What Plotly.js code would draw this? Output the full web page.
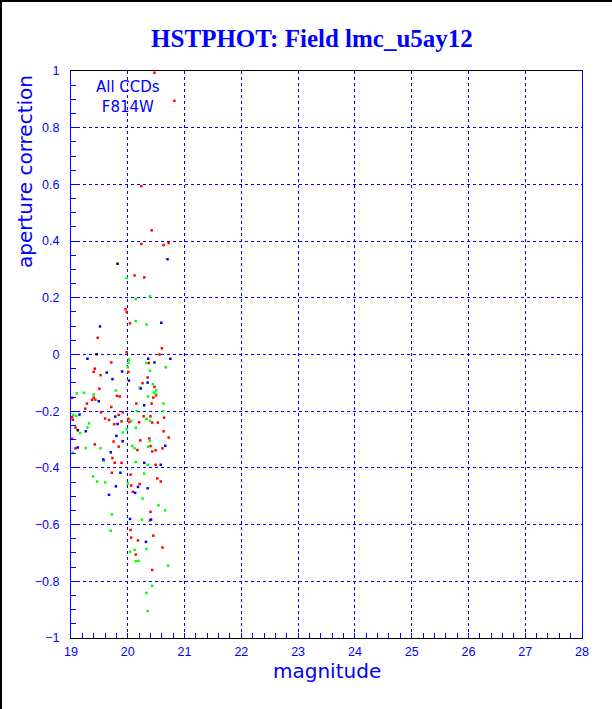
<!DOCTYPE html>
<html>
<head>
<meta charset="utf-8">
<script src="https://cdn.plot.ly/plotly-3.0.1.min.js"></script>
<style>
  html, body { margin: 0; padding: 0; background: #fff; }
  #chart { width: 612px; height: 709px; }
  #frame { position: absolute; left: 0; top: 0; width: 612px; height: 709px; box-sizing: border-box;
           border-top: 2px solid #000; border-left: 2px solid #000; pointer-events: none; }
</style>
</head>
<body>
<div id="chart"></div>
<div id="frame"></div>
<script>
// ---- data (magnitude, aperture correction) ----
const redMag = [20.47,20.82,20.24,20.42,20.24,20.63,20.72,20.12,20.29,19.96,19.98,20.04,19.47,20.60,
  19.98,20.56,19.71,20.37,19.42,19.40,20.01,19.52,20.35,19.50,20.26,20.47,19.81,19.86,19.40,20.50,20.45,
  19.37,19.43,19.02,19.28,20.15,20.42,19.71,19.25,19.53,19.91,19.84,20.28,20.40,20.64,19.02,19.60,19.67,
  20.01,19.03,20.03,20.20,19.89,20.43,20.53,19.76,19.08,20.63,20.72,20.38,20.22,19.75,19.02,19.84,19.42,
  20.40,19.08,20.61,20.17,20.49,20.43,19.73,19.77,19.89,20.49,19.72,20.05,20.52,20.58,20.21,20.06,
  20.09,20.40,20.39,20.05,20.45,20.06,20.18,20.61,20.14,20.43];
const redCorr = [0.994,0.895,0.594,0.438,0.39,0.386,0.393,0.279,0.272,0.16,0.15,0.11,0.059,0.022,
  0.008,0.0,-0.028,-0.03,-0.05,-0.061,-0.061,-0.073,-0.081,-0.121,-0.101,-0.114,-0.146,-0.148,-0.152,-0.144,-0.152,
  -0.16,-0.159,-0.153,-0.173,-0.173,-0.173,-0.185,-0.191,-0.204,-0.204,-0.213,-0.218,-0.218,-0.223,-0.221,-0.226,-0.231,
  -0.227,-0.23,-0.238,-0.239,-0.236,-0.24,-0.24,-0.246,-0.258,-0.271,-0.293,-0.296,-0.303,-0.307,-0.297,-0.325,-0.317,
  -0.323,-0.331,-0.331,-0.337,-0.338,-0.342,-0.365,-0.382,-0.382,-0.389,-0.417,-0.424,-0.437,-0.448,-0.457,-0.462,
  -0.484,-0.555,-0.585,-0.619,-0.639,-0.646,-0.656,-0.681,-0.706,-0.76];

const greenMag = [19.98,20.14,20.39,20.14,20.33,
  20.02,20.01,20.33,20.67,20.00,20.39,20.44,20.21,19.79,20.50,20.46,20.49,19.10,19.23,19.40,20.36,20.63,
  20.16,20.62,19.04,19.09,20.33,20.06,20.39,19.32,19.29,20.14,19.16,19.91,19.98,20.39,20.08,20.36,19.26,
  19.52,20.12,19.03,19.58,20.14,20.35,20.29,19.39,19.46,19.60,20.00,
  20.26,20.54,20.66,19.72,20.25,19.70,20.12,20.33,20.04,20.14,20.19,20.71,20.43,20.33,20.35];
const greenCorr = [0.27,0.195,0.205,0.118,0.106,
  -0.018,-0.029,-0.03,-0.045,-0.045,-0.057,-0.105,-0.117,-0.127,-0.127,-0.134,-0.139,-0.137,-0.135,-0.141,-0.148,-0.173,
  -0.2,-0.2,-0.213,-0.217,-0.227,-0.234,-0.234,-0.243,-0.257,-0.258,-0.277,-0.275,-0.264,-0.305,-0.322,-0.325,-0.33,
  -0.331,-0.331,-0.346,-0.375,-0.379,-0.389,-0.42,-0.43,-0.448,-0.451,-0.455,
  -0.508,-0.532,-0.55,-0.564,-0.582,-0.622,-0.689,-0.686,-0.696,-0.729,-0.728,-0.745,-0.816,-0.841,-0.905];

const blueMag = [20.70,20.59,19.51,
  19.29,20.36,20.75,20.47,19.63,19.90,19.73,20.02,20.35,20.23,19.49,20.29,19.15,19.78,19.82,19.26,19.80,
  19.91,20.66,19.12,19.70,19.57,20.29,20.58,19.87,19.79,20.18,20.35,
  20.13,19.67,20.04,20.41,20.32];
const blueCorr = [0.336,0.112,0.099,
  -0.015,-0.015,-0.015,-0.028,-0.064,-0.06,-0.087,-0.092,-0.099,-0.12,-0.165,-0.179,-0.212,-0.219,-0.245,-0.271,-0.287,
  -0.306,-0.322,-0.328,-0.345,-0.37,-0.382,-0.389,-0.417,-0.465,-0.467,-0.472,
  -0.488,-0.495,-0.58,-0.582,-0.661];

const blackMag = [19.82,19.45,19.12];
const blackCorr = [0.32,0.001,-0.267];

const titleText = 'HSTPHOT: Field lmc_u5ay12';
const xTitle = 'magnitude';
const yTitle = 'aperture correction';
const noteText = 'All CCDs<br>F814W';

// ---- chart ----
const BLUE = '#0000ff';
function series(x, y, color) {
  return { type: 'scatter', mode: 'markers', x: x, y: y,
           marker: { symbol: 'square', size: 2.5, color: color, line: { width: 0 } },
           hoverinfo: 'skip', showlegend: false };
}
const traces = [
  series(redMag, redCorr, '#ff0000'),
  series(greenMag, greenCorr, '#00ff00'),
  series(blueMag, blueCorr, BLUE),
  series(blackMag, blackCorr, '#000000')
];

const W = 612, H = 709, L = 71, R = 30, T = 71, B = 71;
const pw = W - L - R, ph = H - T - B;
const tickFont = { family: 'Liberation Sans, Arial, sans-serif', size: 12.5, color: BLUE };
const labelFont = { family: 'DejaVu Sans, sans-serif', size: 20, color: BLUE };

const layout = {
  width: W, height: H,
  margin: { l: L, r: R, t: T, b: B, pad: 0 },
  paper_bgcolor: '#ffffff', plot_bgcolor: '#ffffff',
  title: { text: '<b>' + titleText + '</b>', xref: 'container', yref: 'container',
           x: 312 / W, y: 1 - 38 / H, xanchor: 'center', yanchor: 'middle',
           font: { family: 'Liberation Serif, Times New Roman, serif', size: 25, color: BLUE } },
  xaxis: {
    range: [19, 28], tick0: 19, dtick: 1, ticks: 'inside', ticklen: 5, tickwidth: 1, tickcolor: BLUE,
    showgrid: true, gridcolor: BLUE, griddash: 'dot', gridwidth: 1,
    showline: true, linecolor: '#000000', linewidth: 1, mirror: true, zeroline: false,
    minor: { dtick: 0.2, ticks: 'inside', ticklen: 5, tickcolor: BLUE, showgrid: false },
    tickfont: tickFont, ticklabelstandoff: 2, fixedrange: true
  },
  yaxis: {
    range: [-1, 1], tick0: 0, dtick: 0.2, ticks: 'inside', ticklen: 9, tickwidth: 1, tickcolor: BLUE,
    showgrid: true, gridcolor: BLUE, griddash: 'dot', gridwidth: 1,
    showline: true, linecolor: BLUE, linewidth: 1, mirror: true, zeroline: false,
    minor: { dtick: 0.05, ticks: 'inside', ticklen: 5, tickcolor: BLUE, showgrid: false },
    tickfont: tickFont, ticklabelstandoff: 8, fixedrange: true
  },
  annotations: [
    { text: xTitle, xref: 'paper', yref: 'paper', x: 0.5, y: -(671 - (H - B)) / ph,
      xanchor: 'center', yanchor: 'middle', showarrow: false, font: labelFont },
    { text: yTitle, xref: 'paper', yref: 'paper', x: (25 - L) / pw, y: 1 - (172 - T) / ph,
      xanchor: 'center', yanchor: 'middle', textangle: -90, showarrow: false, font: labelFont },
    { text: noteText, xref: 'paper', yref: 'paper', x: (127.5 - L) / pw, y: 1 - (97.5 - T) / ph,
      xanchor: 'center', yanchor: 'middle', align: 'center', showarrow: false,
      font: { family: 'DejaVu Sans, sans-serif', size: 15, color: BLUE } }
  ]
};

Plotly.newPlot('chart', traces, layout, { staticPlot: true, displayModeBar: false });
</script>
</body>
</html>
